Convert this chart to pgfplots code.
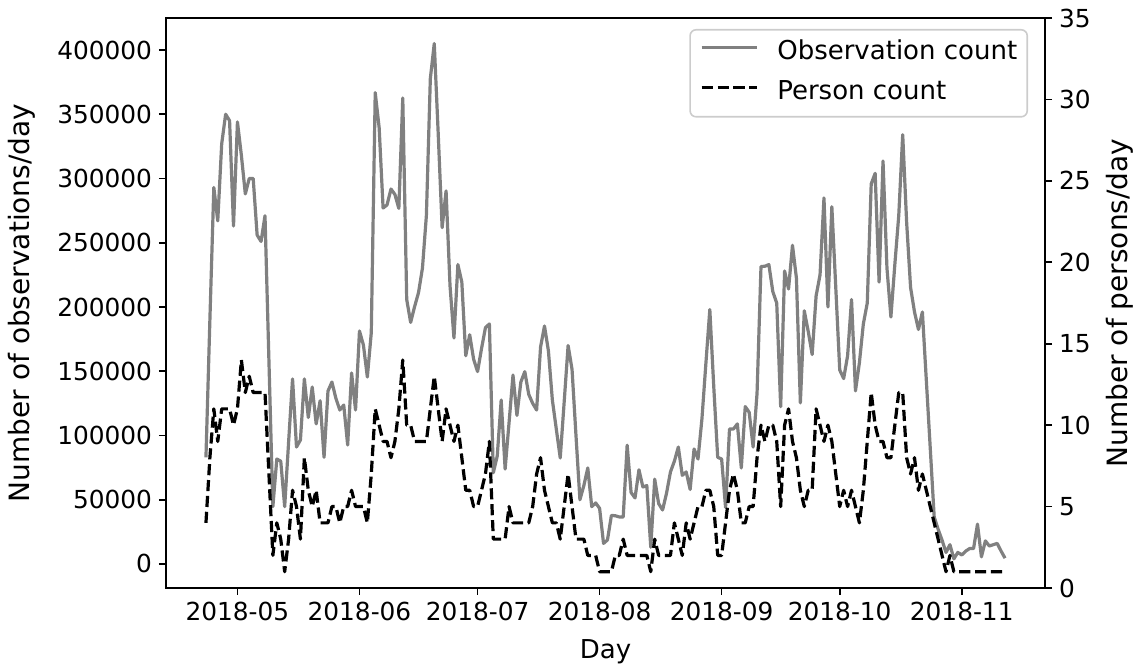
\documentclass[border=0pt]{standalone}
\usepackage{fontspec}
\setmainfont{DejaVu Sans}
\usepackage{pgfplots}
\pgfplotsset{compat=1.18}
\usepackage{pgfplotstable}

% day = days since 2018-05-01; obs = observations per day; pers = persons per day
\pgfplotstableread{
day obs pers
-8 83000 4
-7 190000 8
-6 293000 11
-5 267000 9
-4 327000 11
-3 350000 11
-2 345000 11
-1 263000 10
0 344000 11
1 318000 14
2 288000 12
3 300000 13
4 300000 12
5 256000 12
6 251000 12
7 271000 12
8 158000 7
9 44600 2
10 81700 4
11 80000 3
12 44600 1
13 95000 3
14 144000 6
15 91000 5
16 96500 3
17 144000 8
18 114000 6
19 137700 5
20 109000 6
21 127000 4
22 83000 4
23 134600 4
24 141600 5
25 129000 5
26 119800 4
27 123700 5
28 92600 5
29 148600 6
30 119800 5
31 181300 5
32 170400 5
33 145500 4
34 180000 7
35 366800 11
36 339500 10
37 277000 9
38 279400 9
39 291800 8
40 287600 9
41 276700 11
42 362700 14
43 205800 10
44 188000 10
45 200200 9
46 211200 9
47 230300 9
48 271300 9
49 377700 11
50 405000 13
51 335000 11
52 261700 9
53 290300 11
54 216600 10
55 175900 9
56 233000 10
57 219400 8
58 162000 6
59 178400 6
60 159300 5
61 149700 5
62 167500 6
63 183900 7
64 186800 9
65 71000 3
66 84000 3
67 127600 3
68 73900 3
69 110000 5
70 147000 4
71 115600 4
72 141600 4
73 149700 4
74 132000 4
75 125000 5
76 119800 7
77 168800 8
78 185200 6
79 165800 5
80 127600 4
81 105000 4
82 82500 3
83 126000 5
84 170000 7
85 151500 5
86 100000 3
87 50000 3
88 61000 3
89 74700 2
90 44600 2
91 47500 2
92 43300 1
93 16000 1
94 18700 1
95 37800 1
96 37500 2
97 36600 2
98 36600 3
99 92400 2
100 55600 2
101 51400 2
102 73300 2
103 59900 2
104 61000 2
105 13000 1
106 66000 3
107 47000 2
108 42000 2
109 55000 2
110 71600 2
111 80000 4
112 91000 3
113 69000 2
114 71600 4
115 58000 3
116 89500 4
117 81700 5
118 113000 5
119 156000 6
120 198000 6
121 138000 5
122 83000 2
123 81700 2
124 44000 4
125 105000 6
126 105000 7
127 109000 6
128 74700 4
129 122500 4
130 118000 5
131 91000 5
132 133000 8
133 231500 10
134 231700 9
135 233000 10
136 212000 10
137 203000 9
138 122400 5
139 228000 10
140 214000 11
141 248000 9
142 222500 8
143 125300 6
144 197000 5
145 181000 6
146 163000 6
147 208600 11
148 225000 10
149 284900 9
150 200000 10
151 278000 9
152 215000 7
153 151000 5
154 144300 6
155 162000 5
156 205800 6
157 134700 5
158 156600 4
159 186800 6
160 203100 9
161 295800 12
162 304000 10
163 219400 9
164 313600 9
165 230300 8
166 192200 8
167 233000 10
168 271300 12
169 334100 12
170 265800 8
171 215200 7
172 196100 8
173 182500 6
174 196100 7
175 143000 6
176 90000 5
177 36600 4
178 27000 3
179 18500 2
180 9000 1
181 15000 2
182 4000 1
183 9000 1
184 7000 1
185 10000 1
186 12000 1
187 12000 1
188 31000 1
189 5500 1
190 18000 1
191 14000 1
192 15000 1
193 16000 1
194 10000 1
195 4500 1
}\daily

\begin{document}
\begin{tikzpicture}
\path[use as bounding box] (-83pt,-40pt) rectangle (484pt,294pt);
\pgfplotsset{
  common/.style={
    scale only axis, width=439.5pt, height=285pt,
    xmin=-18.15, xmax=205.15,
    tick align=outside, major tick length=3.5pt,
    every tick/.style={black, line width=0.8pt},
    axis line style={line width=0.8pt},
    tick label style={font=\fontsize{12.4}{14}\selectfont},
    /pgf/number format/assume math mode=true,
    /pgf/number format/fixed,
    /pgf/number format/1000 sep={},
    scaled y ticks=false,
  }
}
\begin{axis}[common,
  ymin=-18700, ymax=424900,
  ytick={0,50000,...,400000},
  xtick={0,31,61,92,123,153,184},
  xticklabels={2018-05,2018-06,2018-07,2018-08,2018-09,2018-10,2018-11},
  xtick pos=left, ytick pos=left,
  xlabel={Day}, ylabel={Number of observations/day},
  every axis x label/.style={at={(axis description cs:0.5,-0.1123)}, anchor=center,
    font=\fontsize{13}{15}\selectfont},
  every axis y label/.style={at={(axis description cs:-0.1638,0.5)}, rotate=90, anchor=center,
    font=\fontsize{14}{16}\selectfont},
]
\addplot[gray, line width=1.6pt, line join=round] table[x=day, y=obs] {\daily};
\end{axis}
\begin{axis}[common,
  hide x axis,
  ymin=0, ymax=35, ytick={0,5,...,35},
  ytick pos=right, yticklabel pos=right,
  ylabel={Number of persons/day},
  every axis y label/.style={at={(axis description cs:1.0853,0.5)}, rotate=90, anchor=center,
    font=\fontsize{14}{16}\selectfont},
  legend cell align=left,
  legend image code/.code={\draw[#1] (0pt,0.3em) -- (27.5pt,0.3em);},
  legend style={
    at={(0.9807,0.9807)}, anchor=north east,
    draw=black!20, line width=0.8pt, rounded corners=3pt,
    fill=white, fill opacity=0.8, text opacity=1, draw opacity=1,
    font=\fontsize{13}{15}\selectfont,
    inner xsep=5pt, inner ysep=5.5pt, row sep=7.5pt,
    nodes={inner sep=0pt, text height=9.5pt, text depth=3pt},
    /tikz/every odd column/.append style={column sep=9.5pt},
  },
]
\addlegendimage{gray, line width=1.6pt}
\addlegendentry{Observation count}
\addplot[black, line width=1.6pt, dash pattern=on 5.55pt off 2.4pt, line join=round] table[x=day, y=pers] {\daily};
\addlegendentry{Person count}
\end{axis}
\end{tikzpicture}
\end{document}
